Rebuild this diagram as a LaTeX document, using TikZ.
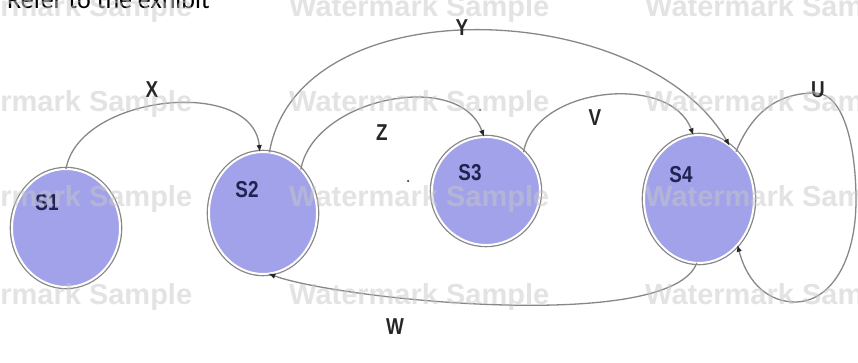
\documentclass[tikz,border=0pt]{standalone}
\usepackage{fontspec}
\setmainfont{Liberation Sans}
\newfontfamily\calfont{Carlito}
\newfontfamily\narrowfont[FakeStretch=0.82]{Liberation Sans}
\usetikzlibrary{arrows.meta,shapes.geometric}
\definecolor{statefill}{RGB}{162,162,234}
\definecolor{statetext}{RGB}{32,34,80}
\definecolor{edgegray}{RGB}{135,135,135}
\begin{document}
\begin{tikzpicture}[x=1pt,y=1pt,
  state/.style={ellipse, inner sep=0pt, outer sep=0pt, fill=statefill, draw=white, line width=2pt,
                preaction={draw=edgegray, line width=4.6pt}},
  stlab/.style={font=\narrowfont\bfseries\fontsize{23}{23}\selectfont, text=statetext, inner sep=0pt},
  elab/.style={font=\narrowfont\bfseries\fontsize{23}{23}\selectfont, text=black!85, inner sep=0pt},
  edge/.style={draw=edgegray, line width=1.3pt, -{Latex[length=7pt,width=5.5pt,color=black!85]}},
  wm/.style={font=\bfseries\fontsize{29}{29}\selectfont, text=black!22, opacity=0.5, inner sep=0pt, anchor=base west},
  dot/.style={circle, fill=black!70, inner sep=0pt, minimum size=2.5pt}]
\useasboundingbox (0,0) rectangle (858,363);
\clip (0,0) rectangle (858,363);

% header text (cut at top)
\node[font=\calfont\fontsize{26}{26}\selectfont, anchor=base west, inner sep=0pt] (hdr) at (7,354) {Refer to the exhibit};

% states
\node[state, minimum width=108pt, minimum height=118pt] (s1) at (66,135) {};
\node[state, minimum width=108pt, minimum height=122pt] (s2) at (263,150) {};
\node[state, minimum width=108pt, minimum height=108pt] (s3) at (486,172) {};
\node[state, minimum width=110pt, minimum height=128pt] (s4) at (699,164) {};

\node[stlab] (t1) at (47,160) {S1};
\node[stlab] (t2) at (247,173) {S2};
\node[stlab] (t3) at (470,190) {S3};
\node[stlab] (t4) at (681,188) {S4};

% transitions
\draw[edge] (s1.90) to[out=80,in=95] (s2.93);
\draw[edge] (s2.84) to[out=80,in=120,looseness=0.95] (s4.60);
\draw[edge] (s2.49) to[out=80,in=110] (s3.92);
\draw[edge] (s3.46) to[out=80,in=110] (s4.95);
\draw[edge] (s4.-92) to[out=-110,in=-20,looseness=0.45] (s2.-85);
\draw[edge] (s4.52) .. controls (755,258) and (785,270) .. (815,270)
   .. controls (845,270) and (856,213) .. (856,163)
   .. controls (856,101) and (830,61) .. (795,61)
   .. controls (770,61) and (748,78) .. (s4.-50);

% transition labels
\node[elab] (lx) at (152,273) {X};
\node[elab] (ly) at (462,335) {Y};
\node[elab] (lz) at (382,230) {Z};
\node[elab] (lv) at (595,245) {V};
\node[elab] (lu) at (818,273) {U};
\node[elab] (lw) at (395,36) {W};

% stray dots
\node[dot] (d1) at (408,182) {};
\node[dot] (d2) at (480,253) {};

% watermarks
\foreach \yy in {346,251,156,58} {
  \node[wm] at (-68,\yy) {Watermark Sample};
  \node[wm] at (289,\yy) {Watermark Sample};
  \node[wm] at (645,\yy) {Watermark Sample};
}
\end{tikzpicture}
\end{document}
